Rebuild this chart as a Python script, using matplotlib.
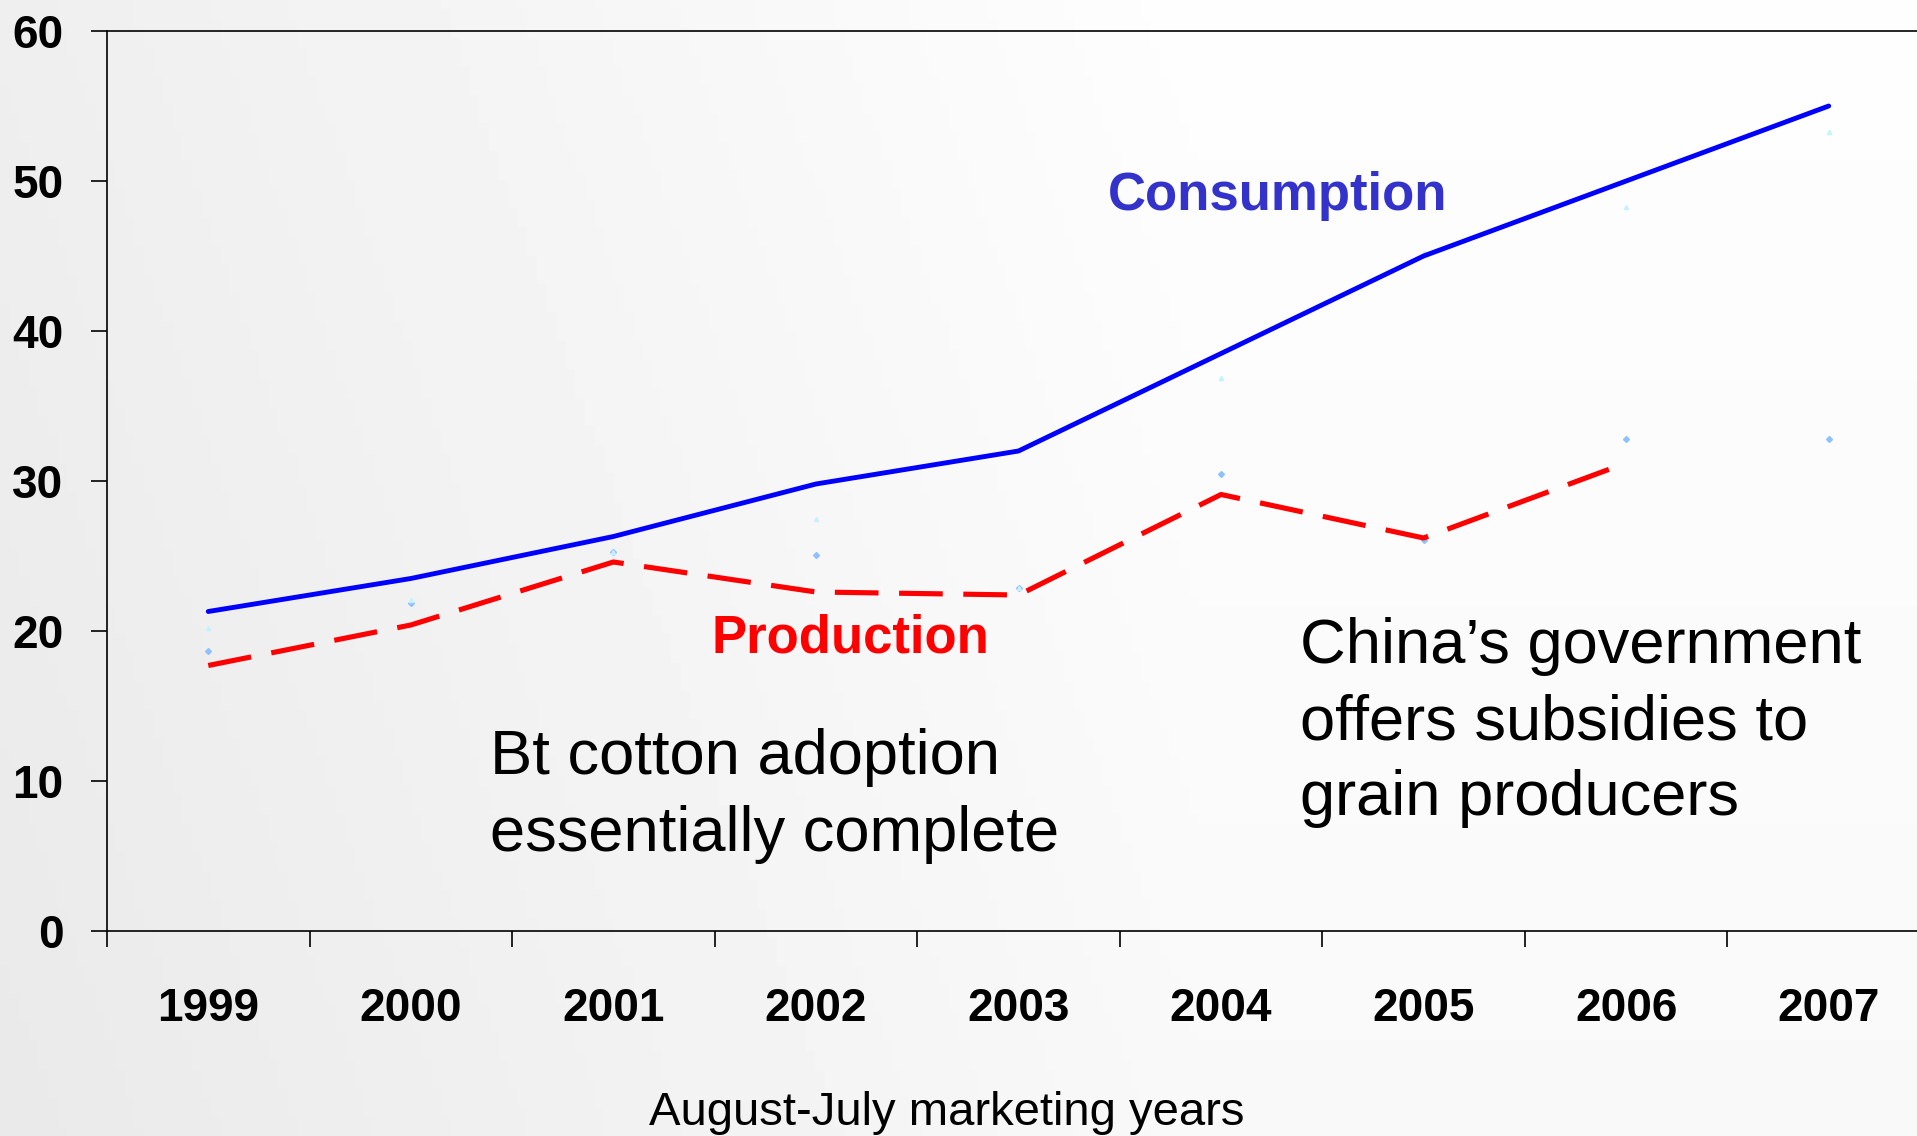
import numpy as np
import matplotlib.pyplot as plt

# Data
years = ["1999", "2000", "2001", "2002", "2003", "2004", "2005", "2006", "2007"]
consumption = [21.3, 23.5, 26.3, 29.8, 32.0, 38.5, 45.0, 50.0, 55.0]
production = [17.7, 20.4, 24.6, 22.6, 22.4, 29.1, 26.2, 31.2, np.nan]
# faint leftover markers visible in the original slide
faint_triangles = [20.2, 22.1, 25.3, 27.5, 22.9, 36.9, 45.2, 48.3, 53.3]
faint_diamonds = [18.7, 21.9, 25.3, 25.1, 22.9, 30.5, 26.1, 32.8, 32.8]
y_ticks = [0, 10, 20, 30, 40, 50, 60]

plt.rcParams['font.family'] = ['Liberation Sans', 'DejaVu Sans']

fig = plt.figure(figsize=(19.17, 11.36), dpi=100)

# Soft faded background (slide photo replaced by a gradient)
bg = fig.add_axes([0, 0, 1, 1], zorder=0)
gx = np.linspace(0, 1, 200)
gy = np.linspace(0, 1, 120)
X, Y = np.meshgrid(gx, gy)
shade = 0.915 + 0.06 * np.clip(X * 1.6, 0, 1) + 0.02 * Y
bg.imshow(shade, cmap='gray', vmin=0, vmax=1, aspect='auto', extent=[0, 1, 0, 1], origin='lower')
bg.axis('off')

# Plot area runs slightly past the right edge, as in the reference
ax = fig.add_axes([107 / 1917, 1 - 931 / 1136, 1823 / 1917, 900 / 1136], zorder=1)
ax.set_facecolor('none')

x = np.arange(len(years))
ax.plot(x, faint_diamonds, linestyle='none', marker='D', markersize=3, color='#8fc0ff')
ax.plot(x, faint_triangles, linestyle='none', marker='^', markersize=3, color='#c4f2ff')
ax.plot(x, consumption, color='#0000ff', linewidth=3.5, solid_capstyle='round')
ax.plot(x, production, color='#ff0000', linewidth=3.7, dashes=(8.5, 4))

ax.set_xlim(-0.5, len(years) - 0.5)
ax.set_ylim(0, 60)
ax.set_yticks(y_ticks)
ax.set_yticklabels([str(v) for v in y_ticks], fontsize=33, fontweight='bold')
ax.set_xticks(x)
ax.set_xticklabels(years, fontsize=33, fontweight='bold')
ax.set_xticks(np.arange(len(years)) - 0.5, minor=True)
ax.tick_params(axis='x', which='major', length=0, pad=40)
ax.tick_params(axis='x', which='minor', length=11.5, width=1.2, direction='out')
ax.tick_params(axis='y', length=11.5, width=1.2, direction='out', pad=20)
for s in ax.spines.values():
    s.set_linewidth(1.2)
    s.set_color('black')

# Annotations
ax.text(5.28, 49.0, "Consumption", color='#3333cc', fontsize=38, fontweight='bold', ha='center', va='center')
ax.text(3.17, 19.5, "Production", color='#ff0000', fontsize=38, fontweight='bold', ha='center', va='center')
ax.text(1.39, 9.0, "Bt cotton adoption\nessentially complete", fontsize=45.5,
        ha='left', va='center', linespacing=1.38)
ax.text(5.39, 13.9, "China\u2019s government\noffers subsidies to\ngrain producers", fontsize=45.5,
        ha='left', va='center', linespacing=1.38)

fig.text(947 / 1917, 1 - 1113 / 1136, "August-July marketing years", fontsize=34,
         ha='center', va='center')

fig.savefig('out.png', dpi=100)
